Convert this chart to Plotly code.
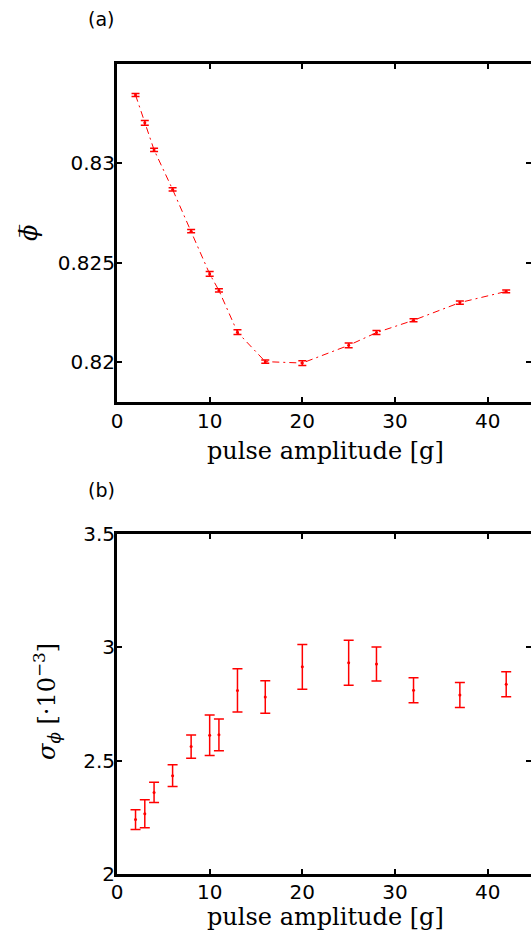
import plotly.graph_objects as go

# ---- data ----
amp = [2, 3, 4, 6, 8, 10, 11, 13, 16, 20, 25, 28, 32, 37, 42]
phi_mean = [0.83344, 0.83204, 0.83068, 0.82869, 0.82659, 0.82444, 0.82361,
            0.82151, 0.82003, 0.81996, 0.82085, 0.82149, 0.82211, 0.82300, 0.82356]
phi_mean_err = [0.00008, 0.00012, 0.00008, 0.00008, 0.00008, 0.00012, 0.00008,
                0.00012, 0.00008, 0.00012, 0.00012, 0.00010, 0.00008, 0.00008, 0.00007]
sigma_phi = [2.240, 2.266, 2.360, 2.434, 2.562, 2.612, 2.614, 2.810, 2.781,
             2.914, 2.932, 2.927, 2.811, 2.790, 2.837]
sigma_phi_err = [0.044, 0.062, 0.045, 0.048, 0.051, 0.089, 0.070, 0.095, 0.072,
                 0.099, 0.099, 0.075, 0.055, 0.055, 0.055]

x_ticks = [0, 10, 20, 30, 40]
top_yticks = [0.82, 0.825, 0.83]
top_yticktext = ["0.82", "0.825", "0.83"]
bot_yticks = [2, 2.5, 3, 3.5]
bot_yticktext = ["2", "2.5", "3", "3.5"]

RED = "#ff0000"
W, H = 531, 933
ML, MR, MT, MB = 117, 0, 64, 59
XMAX = 45 * (W - ML) / (534 - ML)

fig = go.Figure()

fig.add_trace(go.Scatter(
    x=amp, y=phi_mean, mode="lines+markers",
    line=dict(color=RED, width=1, dash="7px,4px,2px,4px"),
    marker=dict(color=RED, size=3),
    error_y=dict(type="data", array=phi_mean_err, color=RED, thickness=1.5, width=4),
    xaxis="x", yaxis="y", showlegend=False))

fig.add_trace(go.Scatter(
    x=amp, y=sigma_phi, mode="markers",
    marker=dict(color=RED, size=3),
    error_y=dict(type="data", array=sigma_phi_err, color=RED, thickness=1.5, width=5),
    xaxis="x2", yaxis="y2", showlegend=False))

tickfont = dict(family="DejaVu Sans, sans-serif", size=20, color="black")
titlefont = dict(family="DejaVu Serif, serif", size=24, color="black")

top_dom = [(H - MB - 402) / (H - MT - MB), 1]
bot_dom = [0, (H - MB - 534) / (H - MT - MB)]

xcommon = dict(range=[0, XMAX], tickvals=x_ticks, ticktext=[str(v) for v in x_ticks],
               ticks="inside", ticklen=5, tickwidth=2, tickcolor="black",
               showline=True, linewidth=3, linecolor="black", mirror="ticks",
               showgrid=False, zeroline=False, tickfont=tickfont)
ycommon = dict(ticks="inside", ticklen=5, tickwidth=2, tickcolor="black",
               showline=True, linewidth=3, linecolor="black", mirror=False,
               showgrid=False, zeroline=False, tickfont=tickfont, ticklabelstandoff=-5)

fig.update_layout(
    width=W, height=H, margin=dict(l=ML, r=MR, t=MT, b=MB),
    paper_bgcolor="white", plot_bgcolor="white",
    xaxis=dict(**xcommon, anchor="y", ticklabelstandoff=-1),
    yaxis=dict(**ycommon, domain=top_dom, range=[0.818, 0.835],
               tickvals=top_yticks, ticktext=top_yticktext, anchor="x"),
    xaxis2=dict(**xcommon, anchor="y2", ticklabelstandoff=-2),
    yaxis2=dict(**ycommon, domain=bot_dom, range=[2, 3.5],
                tickvals=bot_yticks, ticktext=bot_yticktext, anchor="x2"),
    # right-side tick marks (axis line itself lies just outside the window)
    yaxis3=dict(overlaying="y", side="right", anchor="x", range=[0.818, 0.835],
                tickvals=top_yticks, ticks="inside", ticklen=5, tickwidth=2,
                tickcolor="black", showticklabels=False, showline=False,
                showgrid=False, zeroline=False),
    yaxis4=dict(overlaying="y2", side="right", anchor="x2", range=[2, 3.5],
                tickvals=bot_yticks, ticks="inside", ticklen=5, tickwidth=2,
                tickcolor="black", showticklabels=False, showline=False,
                showgrid=False, zeroline=False),
)

# invisible traces to activate right-side tick axes
fig.add_trace(go.Scatter(x=[None], y=[None], xaxis="x", yaxis="y3", showlegend=False, hoverinfo="skip"))
fig.add_trace(go.Scatter(x=[None], y=[None], xaxis="x2", yaxis="y4", showlegend=False, hoverinfo="skip"))

def px_x(px):
    return (px - ML) / (W - ML - MR)

def px_y(py):
    return (H - MB - py) / (H - MT - MB)

labfont = dict(family="DejaVu Sans, sans-serif", size=19, color="black")
fig.add_annotation(text="(a)", x=px_x(101), y=px_y(19), xref="paper", yref="paper",
                   showarrow=False, font=labfont, xanchor="center", yanchor="middle")
fig.add_annotation(text="(b)", x=px_x(101), y=px_y(490), xref="paper", yref="paper",
                   showarrow=False, font=labfont, xanchor="center", yanchor="middle")

# x-axis titles
for ty in (451, 917):
    fig.add_annotation(text="pulse amplitude [g]", x=px_x(325), y=px_y(ty),
                       xref="paper", yref="paper", showarrow=False, font=titlefont,
                       xanchor="center", yanchor="middle")

fig.add_annotation(text="<i>ϕ\u0305</i>", x=px_x(29), y=px_y(233), xref="paper", yref="paper",
                   showarrow=False, textangle=-90, font=dict(family="DejaVu Serif, serif", size=24, color="black"),
                   xanchor="center", yanchor="middle")
fig.add_annotation(text="<i>σ</i><sub><i>ϕ</i></sub> [·10<sup>−3</sup>]",
                   x=px_x(46), y=px_y(702), xref="paper", yref="paper",
                   showarrow=False, textangle=-90, font=titlefont,
                   xanchor="center", yanchor="middle")

fig.write_html("out.html")
